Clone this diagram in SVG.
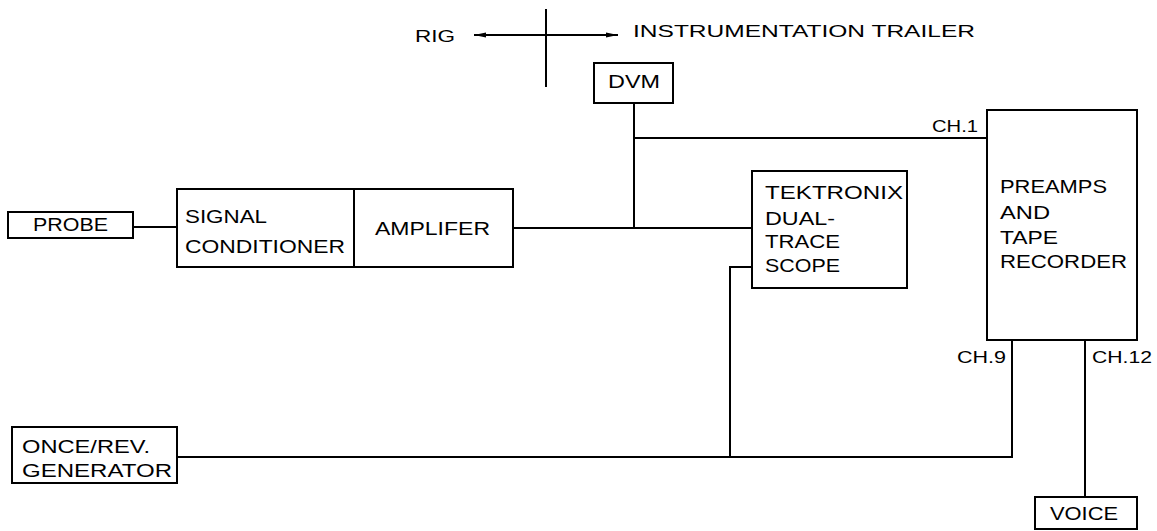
<svg xmlns="http://www.w3.org/2000/svg" width="1157" height="531" viewBox="0 0 1157 531">
<style>
.box{fill:#fff;stroke:#000;stroke-width:2}
.ln{fill:none;stroke:#000;stroke-width:2}
text{font-family:"Liberation Sans",Arial,sans-serif;font-size:18px;fill:#000}
.sm{font-size:16px}
</style>
<defs>
<marker id="ah" viewBox="0 0 12 6" refX="12" refY="3" markerWidth="12" markerHeight="6" markerUnits="userSpaceOnUse" orient="auto-start-reverse">
<path d="M0,0.5 L12,3 L0,5.5 Z" fill="#000"/>
</marker>
</defs>
<rect width="1157" height="531" fill="#fff"/>
<g id="connectors">
<line class="ln" x1="546" y1="9" x2="546" y2="87"/>
<line class="ln" x1="474" y1="35" x2="618" y2="35" marker-start="url(#ah)" marker-end="url(#ah)"/>
<line class="ln" x1="133" y1="227" x2="177" y2="227"/>
<line class="ln" x1="513" y1="228" x2="752" y2="228"/>
<polyline class="ln" points="634,103 634,228"/>
<line class="ln" x1="634" y1="138" x2="987" y2="138"/>
<polyline class="ln" points="752,267 730,267 730,457"/>
<polyline class="ln" points="177,457 1012,457 1012,340"/>
<line class="ln" x1="1085" y1="340" x2="1085" y2="497"/>
</g>
<g id="labels">
<text class="sm" x="415" y="42" textLength="40" lengthAdjust="spacingAndGlyphs">RIG</text>
<text class="sm" x="633" y="37" textLength="342" lengthAdjust="spacingAndGlyphs">INSTRUMENTATION  TRAILER</text>
<text class="sm" x="932" y="132" textLength="46" lengthAdjust="spacingAndGlyphs">CH.1</text>
<text class="sm" x="957" y="363" textLength="49" lengthAdjust="spacingAndGlyphs">CH.9</text>
<text class="sm" x="1092" y="363" textLength="60" lengthAdjust="spacingAndGlyphs">CH.12</text>
</g>
<g id="probe">
<rect class="box" x="8" y="212" width="125" height="26"/>
<text x="33" y="231" textLength="75" lengthAdjust="spacingAndGlyphs">PROBE</text>
</g>
<g id="signal-conditioner">
<rect class="box" x="177" y="189" width="177" height="78"/>
<text x="185" y="223" textLength="82" lengthAdjust="spacingAndGlyphs">SIGNAL</text>
<text x="185" y="253" textLength="160" lengthAdjust="spacingAndGlyphs">CONDITIONER</text>
</g>
<g id="amplifier">
<rect class="box" x="354" y="189" width="159" height="78"/>
<text x="375" y="235" textLength="115" lengthAdjust="spacingAndGlyphs">AMPLIFER</text>
</g>
<g id="dvm">
<rect class="box" x="594" y="63" width="79" height="40"/>
<text x="608" y="88" textLength="52" lengthAdjust="spacingAndGlyphs">DVM</text>
</g>
<g id="scope">
<rect class="box" x="752" y="171" width="155" height="117"/>
<text x="765" y="199" textLength="138" lengthAdjust="spacingAndGlyphs">TEKTRONIX</text>
<text x="765" y="225" textLength="70" lengthAdjust="spacingAndGlyphs">DUAL-</text>
<text x="765" y="248" textLength="75" lengthAdjust="spacingAndGlyphs">TRACE</text>
<text x="765" y="272" textLength="75" lengthAdjust="spacingAndGlyphs">SCOPE</text>
</g>
<g id="recorder">
<rect class="box" x="987" y="110" width="150" height="230"/>
<text x="1000" y="193" textLength="107" lengthAdjust="spacingAndGlyphs">PREAMPS</text>
<text x="1000" y="219" textLength="50" lengthAdjust="spacingAndGlyphs">AND</text>
<text x="1000" y="244" textLength="58" lengthAdjust="spacingAndGlyphs">TAPE</text>
<text x="1000" y="268" textLength="127" lengthAdjust="spacingAndGlyphs">RECORDER</text>
</g>
<g id="once-rev">
<rect class="box" x="12" y="427" width="165" height="56"/>
<text x="22" y="453" textLength="128" lengthAdjust="spacingAndGlyphs">ONCE/REV.</text>
<text x="22" y="477" textLength="150" lengthAdjust="spacingAndGlyphs">GENERATOR</text>
</g>
<g id="voice">
<rect class="box" x="1035" y="497" width="102" height="32"/>
<text x="1050" y="520" textLength="68" lengthAdjust="spacingAndGlyphs">VOICE</text>
</g>
</svg>
